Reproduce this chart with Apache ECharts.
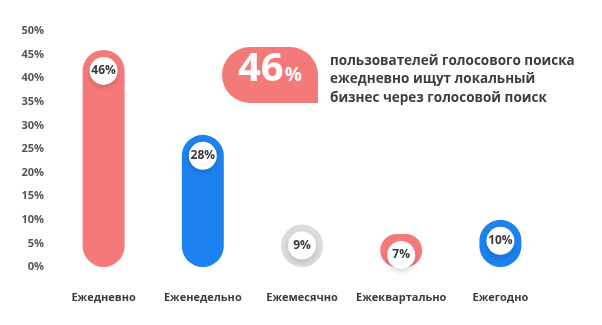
<!DOCTYPE html>
<html><head><meta charset="utf-8">
<script src="https://cdn.jsdelivr.net/npm/echarts@6/dist/echarts.min.js"></script>
<style>html,body{margin:0;padding:0;background:#fff}#c{width:602px;height:325px}</style>
</head><body><div id="c"></div>
<script>
const categories = ['Ежедневно', 'Еженедельно', 'Ежемесячно', 'Ежеквартально', 'Ежегодно'];
const values = [46, 28, 9, 7, 10];
const barColors = ['#F47A7A', '#1C82F0', '#DCDCDC', '#F47A7A', '#1C82F0'];
const yTicks = [0, 5, 10, 15, 20, 25, 30, 35, 40, 45, 50];
const headline = '46';
const note = ['пользователей голосового поиска', 'ежедневно ищут локальный', 'бизнес через голосовой поиск'];

const FONT = '"Open Sans", sans-serif';
const chart = echarts.init(document.getElementById('c'), null, {renderer: 'canvas'});
chart.setOption({
  animation: false,
  backgroundColor: '#fff',
  grid: {left: 54, right: 52, top: 31, bottom: 58},
  xAxis: {
    type: 'category', data: categories,
    axisLine: {show: false}, axisTick: {show: false},
    axisLabel: {interval: 0, margin: 25, color: '#3c3c3c', fontSize: 11, fontWeight: 'bold', fontFamily: FONT}
  },
  yAxis: {
    type: 'value', min: yTicks[0], max: yTicks[yTicks.length - 1], interval: 5,
    splitLine: {show: false}, axisLine: {show: false}, axisTick: {show: false},
    axisLabel: {formatter: '{value}%', margin: 10, color: '#555', fontSize: 11, fontWeight: 'bold', fontFamily: FONT}
  },
  series: [
    {
      type: 'bar', barWidth: 42,
      data: values.map((v, i) => ({value: v, itemStyle: {color: barColors[i]}})),
      itemStyle: {borderRadius: 21}
    },
    {
      type: 'scatter', symbol: 'circle', symbolSize: 28, symbolOffset: [0, 21],
      data: values,
      itemStyle: {color: '#fff', opacity: 1, shadowBlur: 5, shadowColor: 'rgba(0,0,0,0.15)', shadowOffsetY: 3},
      label: {show: true, position: 'inside', formatter: p => p.value + '%', color: '#3a3a3a', fontSize: 12, fontWeight: 'bold', fontFamily: FONT},
      z: 3
    }
  ],
  graphic: [
    {type: 'rect', left: 222, top: 47, shape: {width: 96, height: 56, r: [28, 28, 0, 28]}, style: {fill: '#F47A7A'}},
    {type: 'text', left: 238, top: 50, style: {
      text: '{a|' + headline + '}{b|%}', fill: '#fff',
      rich: {a: {fontSize: 40, fontWeight: 'bold', fontFamily: FONT, fill: '#fff', verticalAlign: 'bottom'},
             b: {fontSize: 19, fontWeight: 'bold', fontFamily: FONT, fill: '#fff', verticalAlign: 'bottom', padding: [0, 0, 5, 1]}}
    }},
    {type: 'text', left: 330, top: 52, style: {
      text: note.join('\n'), fill: '#3c3c3c', fontSize: 13.5, fontWeight: 'bold', fontFamily: FONT, lineHeight: 18.3
    }}
  ]
});
</script></body></html>
